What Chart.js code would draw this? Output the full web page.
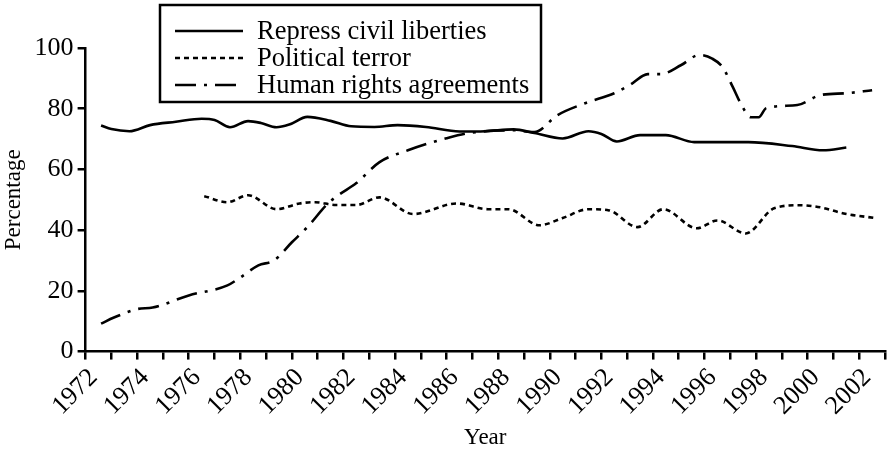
<!DOCTYPE html>
<html>
<head>
<meta charset="utf-8">
<script src="https://cdn.jsdelivr.net/npm/chart.js@4.4.1/dist/chart.umd.min.js"></script>
<style>
  html, body { margin: 0; padding: 0; background: #fff; }
  #wrap { width: 888px; height: 453px; }
</style>
</head>
<body>
<div id="wrap"><canvas id="c" width="888" height="453"></canvas></div>
<script>
// ---- Data ----
const seriesLabels = ["Repress civil liberties", "Political terror", "Human rights agreements"];

const civilYears = [1972.6, 1973.0, 1973.7, 1974.5, 1975.5, 1976.5, 1977.0, 1977.6, 1978.3, 1978.8, 1979.4, 1979.9, 1980.6, 1981.5, 1982.3, 1983.2, 1984.1, 1985.2, 1986.5, 1987.5, 1988.6, 1989.4, 1990.5, 1991.5, 1992.0, 1992.6, 1993.5, 1994.5, 1995.6, 1997.7, 1999.4, 2000.6, 2001.5];
const civilValues = [74.5, 73.3, 72.6, 74.6, 75.7, 76.7, 76.3, 73.9, 75.9, 75.3, 73.9, 74.8, 77.3, 76.0, 74.2, 74.0, 74.6, 74.0, 72.5, 72.6, 73.2, 72.0, 70.2, 72.6, 71.7, 69.2, 71.3, 71.3, 69.0, 69.0, 67.7, 66.3, 67.2];

const terrorYears = [1976.6, 1977.5, 1978.3, 1979.4, 1980.3, 1980.9, 1981.7, 1982.5, 1983.4, 1984.7, 1986.4, 1987.6, 1988.4, 1989.6, 1990.5, 1991.5, 1992.3, 1993.4, 1994.4, 1995.7, 1996.5, 1997.6, 1998.7, 1999.7, 2000.5, 2001.4, 2002.6];
const terrorValues = [51.2, 49.2, 51.5, 46.9, 48.8, 49.2, 48.3, 48.3, 50.8, 45.3, 48.8, 46.9, 46.9, 41.6, 44.0, 46.9, 46.5, 41.0, 46.9, 40.6, 43.2, 38.9, 47.2, 48.2, 47.5, 45.5, 44.0];

const rightsYears = [1972.6, 1973.1, 1974.0, 1974.6, 1976.0, 1977.5, 1978.0, 1978.7, 1979.3, 1980.0, 1980.6, 1981.4, 1981.8, 1982.5, 1983.4, 1984.5, 1986.0, 1986.8, 1988.6, 1989.4, 1990.3, 1991.4, 1992.5, 1993.1, 1993.8, 1994.3, 1995.1, 1995.8, 1996.3, 1996.7, 1997.1, 1997.4, 1997.8, 1998.1, 1998.4, 1999.6, 2000.5, 2001.5, 2002.5];
const rightsValues = [9.2, 11.2, 14.0, 14.5, 18.5, 21.8, 24.4, 28.4, 30.0, 36.0, 41.0, 48.8, 51.5, 55.5, 62.4, 66.3, 70.3, 71.9, 72.9, 72.3, 77.9, 81.9, 85.1, 87.8, 91.4, 91.4, 94.4, 97.7, 96.5, 93.7, 87.1, 81.8, 77.2, 77.2, 80.2, 81.2, 84.5, 85.1, 86.1];

const yTickValues = [0, 20, 40, 60, 80, 100];
const xAxisTitle = "Year";
const yAxisTitle = "Percentage";

// ---- Build ----
function pts(xs, ys) { return xs.map((x, i) => ({ x: x, y: ys[i] })); }

const FONT = "'Liberation Serif', 'Times New Roman', serif";

const legendPlugin = {
  id: 'boxLegend',
  afterDraw(chart) {
    const ctx = chart.ctx;
    ctx.save();
    const bx = 160, by = 5, bw = 381, bh = 97;
    ctx.strokeStyle = '#000';
    ctx.lineWidth = 2.5;
    ctx.setLineDash([]);
    ctx.strokeRect(bx, by, bw, bh);
    ctx.font = "26.5px " + FONT;
    ctx.fillStyle = '#000';
    ctx.textBaseline = 'middle';
    ctx.textAlign = 'left';
    chart.data.datasets.forEach((ds, i) => {
      const y = 31 + i * 27;
      ctx.beginPath();
      ctx.setLineDash(ds.borderDash || []);
      ctx.lineWidth = ds.borderWidth;
      ctx.moveTo(175, y);
      ctx.lineTo(243, y);
      ctx.stroke();
      ctx.setLineDash([]);
      ctx.fillText(ds.label, 257, y + 1);
    });
    ctx.restore();
  }
};

new Chart(document.getElementById('c'), {
  type: 'line',
  data: {
    datasets: [
      { label: seriesLabels[0], data: pts(civilYears, civilValues), borderColor: '#000', borderWidth: 2.6, borderDash: [], pointRadius: 0, cubicInterpolationMode: 'monotone', fill: false },
      { label: seriesLabels[1], data: pts(terrorYears, terrorValues), borderColor: '#000', borderWidth: 2.6, borderDash: [5, 4], pointRadius: 0, cubicInterpolationMode: 'monotone', fill: false },
      { label: seriesLabels[2], data: pts(rightsYears, rightsValues), borderColor: '#000', borderWidth: 2.6, borderDash: [21, 8, 3, 8], pointRadius: 0, cubicInterpolationMode: 'monotone', fill: false }
    ]
  },
  options: {
    responsive: false,
    animation: false,
    layout: { padding: { top: 48, right: 3, left: 0, bottom: 1 } },
    plugins: { legend: { display: false }, tooltip: { enabled: false }, title: { display: false } },
    scales: {
      x: {
        type: 'linear',
        min: 1972, max: 2003,
        afterFit: (axis) => { axis.paddingRight = 0; },
        border: { color: '#000', width: 2.5 },
        grid: { drawOnChartArea: false, drawTicks: true, tickLength: 8, color: '#000', lineWidth: 2.5 },
        ticks: {
          stepSize: 1, autoSkip: false, minRotation: 45, maxRotation: 45,
          color: '#000', font: { family: FONT, size: 26 }, padding: 3, labelOffset: 8,
          callback: (v) => (v % 2 === 0 ? String(v) : '')
        },
        title: { display: true, text: xAxisTitle, color: '#000', font: { family: FONT, size: 23 }, padding: { top: 0, bottom: 0 } }
      },
      y: {
        min: 0, max: 100,
        afterBuildTicks: (axis) => { axis.ticks = yTickValues.map(v => ({ value: v })); },
        border: { color: '#000', width: 2.5 },
        grid: { drawOnChartArea: false, drawTicks: true, tickLength: 8, color: '#000', lineWidth: 2.5 },
        ticks: { color: '#000', font: { family: FONT, size: 26 }, padding: 4 },
        title: { display: true, text: yAxisTitle, color: '#000', font: { family: FONT, size: 23 }, padding: { top: 0, bottom: 3 } }
      }
    }
  },
  plugins: [legendPlugin]
});
</script>
</body>
</html>
